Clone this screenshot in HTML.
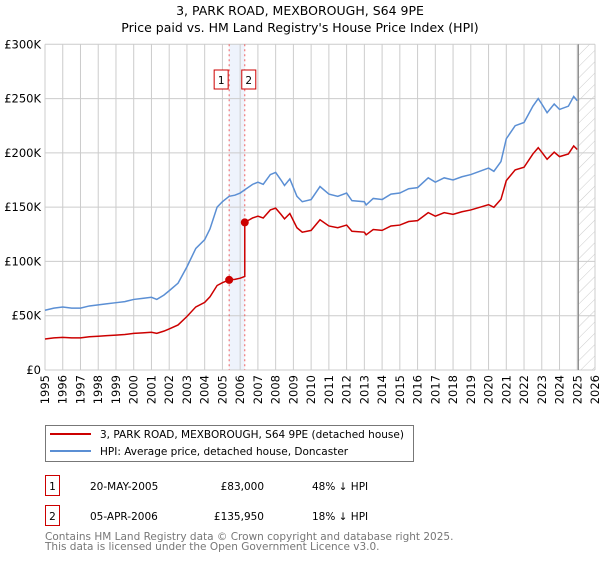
<!DOCTYPE html>
<html><head><meta charset="utf-8"><style>
body{margin:0;background:#fff;font-family:"DejaVu Sans","Liberation Sans",sans-serif;}
svg text{font-family:"DejaVu Sans","Liberation Sans",sans-serif;}
</style></head><body>
<svg id="c" width="600" height="560" xmlns="http://www.w3.org/2000/svg">
<defs><pattern id="hatch" width="8" height="8" patternUnits="userSpaceOnUse" patternTransform="rotate(45)"><line x1="0" y1="0" x2="0" y2="8" stroke="#ccc" stroke-width="1"/></pattern></defs>
<text x="300" y="15" text-anchor="middle" font-size="12.5" fill="#000">3, PARK ROAD, MEXBOROUGH, S64 9PE</text>
<text x="300" y="32" text-anchor="middle" font-size="12.5" fill="#000">Price paid vs. HM Land Registry's House Price Index (HPI)</text>
<g id="grid"></g><g id="marks"></g><g id="axes"></g>
<g>
<rect x="45.5" y="425.5" width="368" height="36" fill="#fff" stroke="#777"/>
<line x1="50" y1="434" x2="91" y2="434" stroke="#cc0000" stroke-width="2"/>
<text x="100" y="438" font-size="10.5">3, PARK ROAD, MEXBOROUGH, S64 9PE (detached house)</text>
<line x1="50" y1="451" x2="91" y2="451" stroke="#5b8fd4" stroke-width="2"/>
<text x="100" y="455" font-size="10.5">HPI: Average price, detached house, Doncaster</text>
</g>
<g font-size="10.5">
<rect x="45.5" y="475.5" width="14" height="20" fill="#fff" stroke="#cc0000"/><text x="52.5" y="490" text-anchor="middle">1</text>
<text x="90" y="490">20-MAY-2005</text><text x="264" y="490" text-anchor="end">£83,000</text><text x="312" y="490">48% ↓ HPI</text>
<rect x="45.5" y="505.5" width="14" height="20" fill="#fff" stroke="#cc0000"/><text x="52.5" y="520" text-anchor="middle">2</text>
<text x="90" y="520">05-APR-2006</text><text x="264" y="520" text-anchor="end">£135,950</text><text x="312" y="520">18% ↓ HPI</text>
</g>
<text x="45" y="540" font-size="10.5" fill="#777">Contains HM Land Registry data © Crown copyright and database right 2025.</text>
<text x="45" y="550" font-size="10.5" fill="#777">This data is licensed under the Open Government Licence v3.0.</text>
</svg>
<script>
const hpiYears=[1995,1995.5,1996,1996.5,1997,1997.5,1998,1998.5,1999,1999.5,2000,2000.5,2001,2001.3,2001.7,2002,2002.5,2003,2003.5,2004,2004.3,2004.7,2005,2005.38,2005.7,2006,2006.26,2006.7,2007,2007.3,2007.7,2008,2008.3,2008.5,2008.8,2009.2,2009.5,2010,2010.5,2011,2011.5,2012,2012.3,2013,2013.1,2013.5,2014,2014.5,2015,2015.5,2016,2016.6,2017,2017.5,2018,2018.5,2019,2019.5,2020,2020.3,2020.7,2021,2021.5,2022,2022.5,2022.8,2023,2023.3,2023.7,2024,2024.5,2024.8,2025.0];
const hpiValues=[55,57,58,57,57,59,60,61,62,63,65,66,67,65,69,73,80,95,112,120,130,150,155,160,161,163,166,171,173,171,180,182,175,170,176,160,155,157,169,162,160,163,156,155,152,158,157,162,163,167,168,177,173,177,175,178,180,183,186,183,192,213,225,228,243,250,245,237,245,240,243,252,248];
const saleYears=[2005.38,2006.26];
const salePrices=[83,135.95];
const saleLabels=["1","2"];
const yTicks=[0,50,100,150,200,250,300];
const yTickLabels=["£0","£50K","£100K","£150K","£200K","£250K","£300K"];
const xTicks=[1995,1996,1997,1998,1999,2000,2001,2002,2003,2004,2005,2006,2007,2008,2009,2010,2011,2012,2013,2014,2015,2016,2017,2018,2019,2020,2021,2022,2023,2024,2025,2026];
const x0=45,x1=595,y0=370,y1=44.3;
const X=v=>x0+(v-1995)/(2026-1995)*(x1-x0);
const Y=v=>y0-(v/300)*(y0-y1);
const NS="http://www.w3.org/2000/svg";
function mk(p,t,a){const e=document.createElementNS(NS,t);for(const k in a)e.setAttribute(k,a[k]);p.appendChild(e);return e;}
const grid=document.getElementById('grid'),marks=document.getElementById('marks'),axes=document.getElementById('axes');
// shaded band & hatch
let band=mk(grid,'rect',{x:X(saleYears[0]),y:y1,width:X(saleYears[1])-X(saleYears[0]),height:y0-y1,fill:'#eef3fc'});


xTicks.forEach(t=>{let l=mk(grid,'line',{x1:X(t),x2:X(t),y1:y1,y2:y0,stroke:'#ccc'});

});
yTicks.forEach((t,i)=>{let l=mk(grid,'line',{x1:x0,x2:x1,y1:Y(t),y2:Y(t),stroke:'#ccc'});


let tx=mk(axes,'text',{x:x0-4,y:Y(t)+4,'text-anchor':'end','font-size':'11.5'});tx.textContent=yTickLabels[i];

});
const hx=X(2025.06);
let hr=mk(grid,'rect',{x:hx,y:y1,width:x1-hx,height:y0-y1,fill:'url(#hatch)'});


let hl=mk(grid,'line',{x1:hx,x2:hx,y1:y1,y2:y0,stroke:'#888','stroke-width':1.2});


xTicks.forEach(t=>{let tx=mk(axes,'text',{transform:`translate(${X(t)+4},${y0+5}) rotate(-90)`,'text-anchor':'end','font-size':'11.5'});tx.textContent=t;

});
// sale lines
saleYears.forEach((s,i)=>{let l=mk(marks,'line',{x1:X(s),x2:X(s),y1:y1,y2:y0,stroke:'#f06060','stroke-dasharray':'2,3'});


const bx=i==0?X(s)-15:X(s)-3;
let r=mk(marks,'rect',{x:bx,y:70,width:14,height:19,fill:'#fff',stroke:'#cc0000'});


let tx=mk(marks,'text',{x:bx+7,y:84,'text-anchor':'middle','font-size':'10.5'});tx.textContent=saleLabels[i];

});
// hpi
let hp=mk(marks,'polyline',{points:hpiYears.map((y,i)=>X(y)+','+Y(hpiValues[i])).join(' '),fill:'none',stroke:'#5b8fd4','stroke-width':1.5});


// price paid indexed to HPI from each sale
function hpiAt(yr){for(let i=1;i<hpiYears.length;i++)if(yr<=hpiYears[i]){const f=(yr-hpiYears[i-1])/(hpiYears[i]-hpiYears[i-1]);return hpiValues[i-1]+f*(hpiValues[i]-hpiValues[i-1]);}return hpiValues[hpiValues.length-1];}
const r1=salePrices[0]/hpiAt(saleYears[0]),r2=salePrices[1]/hpiAt(saleYears[1]);
let pts=[];
hpiYears.forEach((y,i)=>{if(y<saleYears[1])pts.push([y,hpiValues[i]*r1]);});
pts.push([saleYears[1],hpiAt(saleYears[1])*r1]);
pts.push([saleYears[1],salePrices[1]]);
hpiYears.forEach((y,i)=>{if(y>saleYears[1])pts.push([y,hpiValues[i]*r2]);});
let pp=mk(marks,'polyline',{points:pts.map(p=>X(p[0])+','+Y(p[1])).join(' '),fill:'none',stroke:'#cc0000','stroke-width':1.5});


saleYears.forEach((s,i)=>{let c=mk(marks,'circle',{cx:X(s),cy:Y(salePrices[i]),r:4,fill:'#cc0000'});

});
</script>
</body></html>
